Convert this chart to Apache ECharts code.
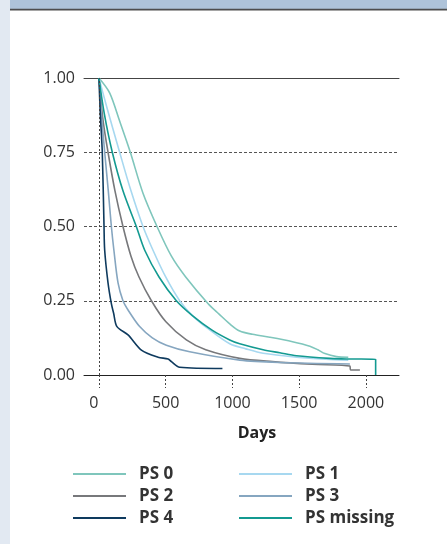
<!DOCTYPE html>
<html>
<head>
<meta charset="utf-8">
<script src="https://cdn.jsdelivr.net/npm/echarts@6/dist/echarts.min.js"></script>
<style>
  html, body { margin: 0; padding: 0; background: #ffffff; }
  #chart { width: 447px; height: 544px; }
</style>
</head>
<body>
<div id="chart"></div>
<script>
// ---- data ----
const seriesNames = ['PS 0', 'PS 1', 'PS 2', 'PS 3', 'PS 4', 'PS missing'];
const xTickValues = [0, 500, 1000, 1500, 2000];
const yTickValues = [0, 0.25, 0.5, 0.75, 1];

const ps0Days = [0, 80, 155, 235, 330, 435, 543, 650, 818, 900, 980, 1055, 1150, 1280, 1450, 1580, 1640, 1693, 1780, 1868];
const ps0Surv = [1.0, 0.95, 0.855, 0.75, 0.612, 0.50, 0.40, 0.33, 0.24, 0.205, 0.172, 0.148, 0.137, 0.127, 0.112, 0.097, 0.085, 0.072, 0.062, 0.06];

const ps1Days = [0, 60, 155, 240, 330, 405, 500, 605, 700, 820, 980, 1100, 1230, 1480, 1700, 1868];
const ps1Surv = [1.0, 0.90, 0.75, 0.62, 0.50, 0.42, 0.33, 0.25, 0.20, 0.155, 0.105, 0.088, 0.073, 0.06, 0.053, 0.05];

const ps2Days = [0, 30, 68, 120, 180, 240, 300, 393, 500, 655, 800, 1055, 1300, 1600, 1880, 1885, 1955];
const ps2Surv = [1.0, 0.86, 0.75, 0.62, 0.50, 0.40, 0.33, 0.25, 0.18, 0.118, 0.085, 0.056, 0.045, 0.036, 0.03, 0.017, 0.017];

const ps3Days = [0, 20, 43, 70, 93, 112, 143, 180, 218, 305, 400, 505, 680, 1055, 1355, 1880];
const ps3Surv = [1.0, 0.87, 0.75, 0.62, 0.50, 0.42, 0.31, 0.25, 0.219, 0.163, 0.125, 0.10, 0.078, 0.05, 0.042, 0.037];

const ps4Days = [0, 10, 25, 38, 43, 68, 93, 110, 135, 218, 318, 443, 518, 543, 605, 925];
const ps4Surv = [1.0, 0.88, 0.75, 0.50, 0.42, 0.31, 0.24, 0.208, 0.163, 0.135, 0.084, 0.06, 0.054, 0.045, 0.026, 0.022];

const psmDays = [0, 40, 100, 180, 280, 343, 450, 580, 700, 850, 980, 1055, 1230, 1355, 1480, 1730, 1855, 2073, 2073];
const psmSurv = [1.0, 0.88, 0.75, 0.62, 0.50, 0.42, 0.33, 0.25, 0.20, 0.15, 0.118, 0.105, 0.085, 0.075, 0.065, 0.056, 0.054, 0.053, 0.0];

const seriesColors = ['#7fc6bc', '#a7d8f0', '#77787b', '#86a6c0', '#0e3a5e', '#139a91'];
const seriesDays = [ps0Days, ps1Days, ps2Days, ps3Days, ps4Days, psmDays];
const seriesSurv = [ps0Surv, ps1Surv, ps2Surv, ps3Surv, ps4Surv, psmSurv];

// ---- chart ----
const chart = echarts.init(document.getElementById('chart'), null, { renderer: 'canvas' });
const FONT = '"Open Sans", "DejaVu Sans", sans-serif';

const series = seriesNames.map((name, i) => ({
  name: name,
  type: 'line',
  xAxisIndex: 0,
  yAxisIndex: 0,
  data: seriesDays[i].map((d, k) => [d, seriesSurv[i][k]]),
  showSymbol: false,
  symbol: 'none',
  smooth: 0.3,
  lineStyle: { width: 1.6, color: seriesColors[i] },
  itemStyle: { color: seriesColors[i] },
  z: 3,
  animation: false,
  silent: true
}));

// dotted vertical reference line at day 0
series[0].markLine = {
  silent: true,
  symbol: 'none',
  label: { show: false },
  lineStyle: { type: [2, 2], color: '#444', width: 1 },
  data: [{ xAxis: 0 }],
  animation: false
};

const legendCommon = {
  orient: 'vertical',
  top: 464,
  padding: 0,
  itemWidth: 53,
  itemHeight: 20,
  itemGap: 2,
  icon: 'path://M0,0H53V2H0Z',
  selectedMode: false,
  textStyle: { fontFamily: FONT, fontSize: 17, fontWeight: 700, color: '#333', lineHeight: 20, padding: [0, 0, 0, 8] }
};

chart.setOption({
  animation: false,
  backgroundColor: '#ffffff',
  graphic: [
    { type: 'rect', shape: { x: 0, y: 0, width: 10, height: 544 }, style: { fill: '#e2e9f2' }, silent: true },
    { type: 'rect', shape: { x: 10, y: 0, width: 437, height: 9 }, style: { fill: '#aec3d9' }, silent: true },
    { type: 'rect', shape: { x: 10, y: 8.7, width: 437, height: 1.7 }, style: { fill: '#4d4d4d' }, silent: true },
    { type: 'text', x: 257, y: 433, style: { text: 'Days', font: '700 16px ' + FONT, fill: '#222', align: 'center', verticalAlign: 'middle' }, silent: true }
  ],
  grid: { left: 84, right: 48, top: 78, bottom: 169, containLabel: false },
  xAxis: [
    {
      type: 'value',
      min: -112,
      max: 2248,
      axisLine: { show: true, lineStyle: { color: '#222', width: 1 } },
      axisTick: { show: true, customValues: xTickValues, length: 13, inside: false, lineStyle: { type: [2, 2], color: '#444', width: 1 } },
      axisLabel: {
        show: true,
        customValues: xTickValues,
        margin: 20,
        fontFamily: FONT,
        fontSize: 16,
        color: '#333',
        formatter: function (v) { return v === 0 ? '{z|0}' : String(v); },
        rich: { z: { fontFamily: FONT, fontSize: 16, color: '#333', padding: [0, 10, 0, 0] } }
      },
      splitLine: { show: false }
    },
    {
      type: 'value',
      position: 'top',
      min: -112,
      max: 2248,
      axisLine: { show: true, onZero: false, lineStyle: { color: '#444', width: 1 } },
      axisTick: { show: false },
      axisLabel: { show: false },
      splitLine: { show: false }
    }
  ],
  yAxis: {
    type: 'value',
    min: 0,
    max: 1,
    interval: 0.25,
    axisLine: { show: false },
    axisTick: { show: false },
    axisLabel: {
      margin: 9,
      fontFamily: FONT,
      fontSize: 16,
      color: '#333',
      formatter: function (v) { return v.toFixed(2); }
    },
    splitLine: { show: true, lineStyle: { type: [3, 2], color: '#555', width: 1 } }
  },
  legend: [
    Object.assign({}, legendCommon, { left: 73, data: ['PS 0', 'PS 2', 'PS 4'] }),
    Object.assign({}, legendCommon, { left: 239, data: ['PS 1', 'PS 3', 'PS missing'] })
  ],
  series: series
});
</script>
</body>
</html>
